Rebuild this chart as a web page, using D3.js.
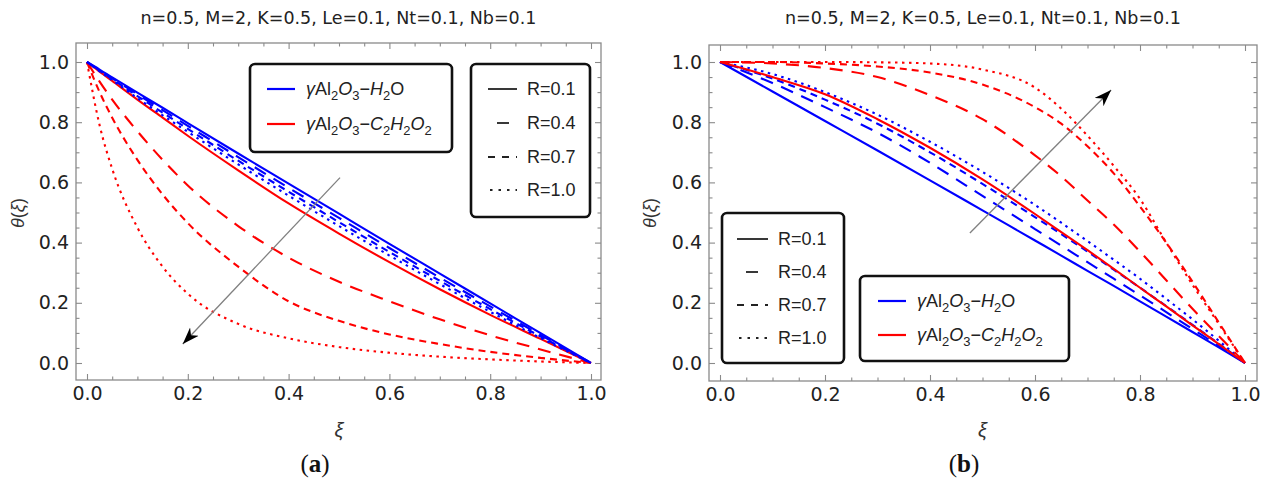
<!DOCTYPE html>
<html>
<head>
<meta charset="utf-8">
<script src="https://cdn.jsdelivr.net/npm/d3@7"></script>
<style>
  body { margin: 0; background: #fff; }
  svg { display: block; }
</style>
</head>
<body>
<script>
// theta(xi) profiles
const rLabels = ["R=0.1", "R=0.4", "R=0.7", "R=1.0"]
const majorTicks = [0, 0.2, 0.4, 0.6, 0.8, 1.0]
const minorTicks = [0.05, 0.1, 0.15, 0.25, 0.3, 0.35, 0.45, 0.5, 0.55, 0.65, 0.7, 0.75, 0.85, 0.9, 0.95]
const titleText = "n=0.5, M=2, K=0.5, Le=0.1, Nt=0.1, Nb=0.1"

// panel (a)
const xiA = [0, 0.025, 0.05, 0.1, 0.15, 0.2, 0.3, 0.4, 0.5, 0.6, 0.7, 0.8, 0.9, 1.0]
const blueA01 = [1, 0.975, 0.949, 0.898, 0.848, 0.797, 0.696, 0.596, 0.496, 0.396, 0.297, 0.198, 0.099, 0]
const blueA04 = [1, 0.973, 0.946, 0.893, 0.840, 0.788, 0.684, 0.582, 0.482, 0.382, 0.284, 0.188, 0.093, 0]
const blueA07 = [1, 0.971, 0.943, 0.887, 0.832, 0.778, 0.672, 0.569, 0.468, 0.369, 0.273, 0.179, 0.088, 0]
const blueA10 = [1, 0.969, 0.940, 0.880, 0.823, 0.768, 0.660, 0.556, 0.455, 0.357, 0.262, 0.170, 0.083, 0]
const redA01 = [1, 0.968, 0.937, 0.875, 0.815, 0.755, 0.640, 0.530, 0.430, 0.335, 0.245, 0.160, 0.080, 0]
const redA04 = [1, 0.935, 0.875, 0.770, 0.675, 0.590, 0.455, 0.350, 0.270, 0.205, 0.145, 0.092, 0.045, 0]
const redA07 = [1, 0.900, 0.815, 0.675, 0.560, 0.465, 0.320, 0.205, 0.140, 0.095, 0.063, 0.037, 0.017, 0]
const redA10 = [1, 0.790, 0.645, 0.450, 0.320, 0.230, 0.130, 0.082, 0.053, 0.034, 0.021, 0.012, 0.005, 0]

// panel (b)
const xiB = [0, 0.1, 0.2, 0.3, 0.4, 0.5, 0.6, 0.65, 0.7, 0.75, 0.8, 0.85, 0.9, 0.95, 1.0]
const blueB01 = [1, 0.902, 0.804, 0.706, 0.607, 0.507, 0.407, 0.357, 0.306, 0.256, 0.205, 0.154, 0.103, 0.052, 0]
const blueB04 = [1, 0.930, 0.850, 0.765, 0.665, 0.555, 0.445, 0.390, 0.335, 0.280, 0.225, 0.169, 0.113, 0.057, 0]
const blueB07 = [1, 0.945, 0.875, 0.795, 0.700, 0.595, 0.485, 0.428, 0.370, 0.310, 0.250, 0.189, 0.127, 0.064, 0]
const blueB10 = [1, 0.960, 0.900, 0.825, 0.735, 0.635, 0.525, 0.466, 0.405, 0.343, 0.280, 0.213, 0.145, 0.074, 0]
const redB01 = [1, 0.950, 0.893, 0.810, 0.715, 0.610, 0.495, 0.435, 0.375, 0.313, 0.250, 0.188, 0.125, 0.063, 0]
const redB04 = [1, 0.995, 0.980, 0.950, 0.890, 0.810, 0.690, 0.620, 0.540, 0.460, 0.370, 0.275, 0.180, 0.090, 0]
const redB07 = [1, 1.000, 0.995, 0.985, 0.965, 0.925, 0.850, 0.795, 0.720, 0.630, 0.520, 0.400, 0.270, 0.135, 0]
const redB10 = [1, 1.000, 1.000, 0.999, 0.995, 0.975, 0.915, 0.845, 0.755, 0.655, 0.545, 0.400, 0.260, 0.130, 0]

// arrow start / end in data units
const arrowA = [[0.502, 0.616], [0.19, 0.063]]
const arrowB = [[0.476, 0.432], [0.745, 0.907]]

const blue = "#0000ff", red = "#ff0000"
const dashes = ["", "13,9", "7,5", "2.5,4.5"]

const h2oLabel = [["γ","i"],["Al","n"],["2","s"],["O","i"],["3","s"],["−","n"],["H","i"],["2","s"],["O","n"]]
const glyLabel = [["γ","i"],["Al","n"],["2","s"],["O","i"],["3","s"],["−","n"],["C","i"],["2","s"],["H","i"],["2","s"],["O","i"],["2","s"]]

const svg = d3.select("body")
              .append("svg")
              .attr("width", 1262)
              .attr("height", 484)
              .style("background-color", "white")

svg.append("defs").append("marker")
   .attr("id", "head")
   .attr("markerUnits", "userSpaceOnUse")
   .attr("viewBox", "-17 -7 18 14")
   .attr("refX", 0).attr("refY", 0)
   .attr("markerWidth", 18).attr("markerHeight", 14)
   .attr("orient", "auto")
   .append("path")
   .attr("d", "M0,0 L-17,-6 L-12,0 L-17,6 Z")
   .attr("fill", "black")

// writes a formula with italic parts and subscripts
function richText(g, x, y, parts, size) {
    const t = g.append("text")
               .attr("x", x).attr("y", y)
               .attr("font-family", "Liberation Sans, Arial, sans-serif")
               .attr("font-size", size)
               .attr("fill", "#222")
    let down = false
    parts.forEach(p => {
        const s = t.append("tspan").text(p[0])
        if (p[1] === "s") {
            s.attr("font-size", size * 0.72)
            if (!down) { s.attr("dy", 5); down = true }
        } else {
            if (down) { s.attr("dy", -5); down = false }
            if (p[1] === "i") s.attr("font-style", "italic")
        }
    })
}

function drawPanel(p) {
    const g = svg.append("g")
    const x = d3.scaleLinear().domain([0, 1]).range(p.xr)
    const y = d3.scaleLinear().domain([0, 1]).range(p.yr)

    // title
    g.append("text")
     .attr("x", (p.frame.l + p.frame.r) / 2).attr("y", 24)
     .attr("text-anchor", "middle")
     .attr("font-family", "DejaVu Sans, sans-serif")
     .attr("font-size", 17.5)
     .attr("fill", "#222")
     .text(titleText)

    // frame
    g.append("rect")
     .attr("x", p.frame.l).attr("y", p.frame.t)
     .attr("width", p.frame.r - p.frame.l).attr("height", p.frame.b - p.frame.t)
     .attr("fill", "none").attr("stroke", "#8a8a8a").attr("stroke-width", 1.3)

    const axes = [
        [d3.axisBottom(x), `translate(0,${p.frame.b})`, true],
        [d3.axisTop(x), `translate(0,${p.frame.t})`, false],
        [d3.axisLeft(y), `translate(${p.frame.l},0)`, true],
        [d3.axisRight(y), `translate(${p.frame.r},0)`, false]
    ]
    axes.forEach(([ax, tr, labels]) => {
        const major = g.append("g").attr("transform", tr)
                       .call(ax.tickValues(majorTicks).tickSize(-6).tickPadding(labels ? 7 : 0)
                               .tickFormat(labels ? d3.format(".1f") : ""))
        const minor = g.append("g").attr("transform", tr)
                       .call(ax.tickValues(minorTicks).tickSize(-3.5).tickFormat(""))
        ;[major, minor].forEach(a => {
            a.select(".domain").remove()
            a.selectAll("line").attr("stroke", "#8a8a8a").attr("stroke-width", 1.1)
        })
        major.selectAll("text")
             .attr("font-family", "DejaVu Sans, sans-serif")
             .attr("font-size", 19)
             .attr("fill", "#222")
    })

    // axis labels
    const yl = g.append("text")
                .attr("transform", `translate(${p.ylab[0]},${p.ylab[1]}) rotate(-90)`)
                .attr("text-anchor", "middle")
                .attr("font-family", "Liberation Sans, Arial, sans-serif")
                .attr("font-size", 18)
                .attr("fill", "#333")
    yl.append("tspan").attr("font-style", "italic").text("θ")
    yl.append("tspan").text("(")
    yl.append("tspan").attr("font-style", "italic").text("ξ")
    yl.append("tspan").text(")")

    g.append("text")
     .attr("x", x(0.5)).attr("y", 437)
     .attr("text-anchor", "middle")
     .attr("font-family", "Liberation Sans, Arial, sans-serif")
     .attr("font-style", "italic")
     .attr("font-size", 20)
     .attr("fill", "#333")
     .text("ξ")

    const cap = g.append("text")
                 .attr("x", p.cap).attr("y", 472)
                 .attr("text-anchor", "middle")
                 .attr("font-family", "Liberation Serif, Times New Roman, serif")
                 .attr("font-size", 25)
                 .attr("fill", "#111")
    cap.append("tspan").text("(")
    cap.append("tspan").attr("font-weight", "bold").text(p.letter)
    cap.append("tspan").text(")")

    // curves
    const line = d3.line()
                   .x(d => x(d[0]))
                   .y(d => y(d[1]))
                   .curve(d3.curveMonotoneX)
    p.series.forEach(s => {
        g.append("path")
         .datum(p.xi.map((v, i) => [v, s.values[i]]))
         .attr("d", line)
         .attr("fill", "none")
         .attr("stroke", s.color)
         .attr("stroke-width", 2.1)
         .attr("stroke-dasharray", dashes[s.r])
    })

    // arrow
    g.append("line")
     .attr("x1", x(p.arrow[0][0])).attr("y1", y(p.arrow[0][1]))
     .attr("x2", x(p.arrow[1][0])).attr("y2", y(p.arrow[1][1]))
     .attr("stroke", "#808080").attr("stroke-width", 1.3)
     .attr("marker-end", "url(#head)")

    // legend with the two fluids
    const c = p.colorLeg
    g.append("rect")
     .attr("x", c.x).attr("y", c.y).attr("width", c.w).attr("height", c.h)
     .attr("rx", 5).attr("fill", "white").attr("stroke", "#111").attr("stroke-width", 2.6)
    ;[[blue, h2oLabel], [red, glyLabel]].forEach(([col, lab], i) => {
        g.append("line")
         .attr("x1", c.line[0]).attr("x2", c.line[1])
         .attr("y1", c.rows[i]).attr("y2", c.rows[i])
         .attr("stroke", col).attr("stroke-width", 2.2)
        richText(g, c.text, c.rows[i] + 6, lab, 18)
    })

    // legend with the R values
    const r = p.rLeg
    g.append("rect")
     .attr("x", r.x).attr("y", r.y).attr("width", r.w).attr("height", r.h)
     .attr("rx", 5).attr("fill", "white").attr("stroke", "#111").attr("stroke-width", 2.6)
    rLabels.forEach((lab, i) => {
        const ln = g.append("line")
                    .attr("x1", r.line[0]).attr("x2", r.line[1])
                    .attr("y1", r.rows[i]).attr("y2", r.rows[i])
                    .attr("stroke", "#222").attr("stroke-width", 1.8)
        if (i === 1) ln.attr("stroke-dasharray", "12,30").attr("stroke-dashoffset", -9)
        if (i === 2) ln.attr("stroke-dasharray", "7,7")
        if (i === 3) ln.attr("stroke-dasharray", "2.5,6").attr("stroke-dashoffset", -2)
        g.append("text")
         .attr("x", r.text).attr("y", r.rows[i] + 6)
         .attr("font-family", "Liberation Sans, Arial, sans-serif")
         .attr("font-size", 18)
         .attr("fill", "#222")
         .text(lab)
    })
}

drawPanel({
    letter: "a",
    frame: {l: 76, r: 601, t: 43, b: 380},
    xr: [87, 591], yr: [363, 62],
    ylab: [24, 213], cap: 315,
    xi: xiA,
    series: [
        {color: red, r: 0, values: redA01},
        {color: red, r: 1, values: redA04},
        {color: red, r: 2, values: redA07},
        {color: red, r: 3, values: redA10},
        {color: blue, r: 3, values: blueA10},
        {color: blue, r: 2, values: blueA07},
        {color: blue, r: 1, values: blueA04},
        {color: blue, r: 0, values: blueA01}
    ],
    arrow: arrowA,
    colorLeg: {x: 250, y: 64, w: 202, h: 88, rows: [89, 124], line: [267, 295], text: 306},
    rLeg: {x: 471, y: 64, w: 119, h: 153, rows: [89, 123, 157, 190], line: [488, 517], text: 527}
})

drawPanel({
    letter: "b",
    frame: {l: 709, r: 1257, t: 45, b: 381},
    xr: [720, 1245], yr: [363, 62],
    ylab: [656, 213], cap: 964,
    xi: xiB,
    series: [
        {color: blue, r: 0, values: blueB01},
        {color: blue, r: 1, values: blueB04},
        {color: blue, r: 2, values: blueB07},
        {color: blue, r: 3, values: blueB10},
        {color: red, r: 3, values: redB10},
        {color: red, r: 2, values: redB07},
        {color: red, r: 1, values: redB04},
        {color: red, r: 0, values: redB01}
    ],
    arrow: arrowB,
    colorLeg: {x: 860, y: 276, w: 209, h: 85, rows: [301, 335], line: [878, 906], text: 917},
    rLeg: {x: 722, y: 213, w: 122, h: 150, rows: [239, 272, 305, 338], line: [737, 768], text: 778}
})
</script>
</body>
</html>
